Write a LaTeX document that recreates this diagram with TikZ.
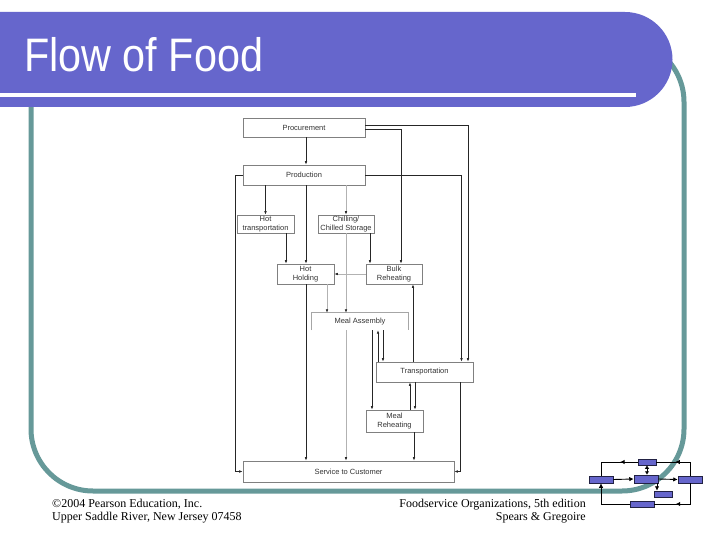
\documentclass[tikz,border=0pt]{standalone}
\usepackage{fontspec}
\setmainfont{Liberation Serif}
\newfontfamily\boxfont{Liberation Sans}
\usetikzlibrary{arrows.meta,decorations.markings}
\definecolor{titlepurple}{HTML}{6666CC}
\definecolor{borderteal}{HTML}{669999}
\definecolor{iconedge}{HTML}{222244}
\tikzset{
  fbox/.style={draw=black!50, line width=0.7pt, fill=white, inner sep=0pt, align=center,
    font=\boxfont\fontsize{7.5}{8.5}\selectfont, text=black!80},
  darr/.style={draw=black!85, line width=0.6pt, -{Latex[length=3.5pt,width=2.6pt]}},
  garr/.style={draw=black!30, line width=0.6pt, -{Latex[length=3.5pt,width=2.6pt,color=black!85]}},
  tealline/.style={draw=borderteal, line width=5pt},
  ibox/.style={draw=iconedge, line width=0.5pt, fill=titlepurple, inner sep=0pt},
  iline/.style={draw=black, line width=0.9pt},
  itip/.style={-{Latex[length=4.5pt,width=4.5pt]}},
  midarrow/.style={postaction={decorate}, decoration={markings, mark=at position #1 with {\arrow{Latex[length=4.5pt,width=4.5pt]}}}},
  foot/.style={inner sep=0pt, font=\fontsize{12}{14}\selectfont}
}
\begin{document}
\begin{tikzpicture}[x=1pt,y=-1pt]
\useasboundingbox (0,0) rectangle (720,540);
\fill[white] (0,0) rectangle (720,540);

% teal frame
\draw[tealline, rounded corners=62pt] (31,40) -- (31,491) -- (684,491) -- (684,40) -- (560,40);

% title bar
\fill[titlepurple, rounded corners=47.5pt] (-80,12) rectangle (672.5,107);
\draw[white, line width=3.5pt] (0,95) -- (636,95);
\node[anchor=base west, text=white, font=\boxfont\fontsize{47}{47}\selectfont, xscale=0.88, inner sep=0pt] (title) at (24,72) {Flow of Food};

% flowchart boxes
\node[fbox, minimum width=122pt, minimum height=19pt] (proc) at (304,127.5) {Procurement};
\node[fbox, minimum width=122pt, minimum height=20pt] (prod) at (304,175) {Production};
\node[fbox, minimum width=57pt, minimum height=18pt] (hott) at (265.5,224) {Hot\\transportation};
\node[fbox, minimum width=56pt, minimum height=18pt] (chill) at (346,224) {Chilling/\\Chilled Storage};
\node[fbox, minimum width=57pt, minimum height=20pt] (hoth) at (305.5,274) {Hot\\Holding};
\node[fbox, minimum width=56pt, minimum height=20pt] (bulk) at (394,274) {Bulk\\Reheating};
\node[inner sep=0pt, minimum width=96pt, minimum height=17pt, font=\boxfont\fontsize{7.5}{8.5}\selectfont, text=black!80] (meal) at (360,321.5) {Meal Assembly};
\draw[draw=black!35, line width=0.7pt] (meal.south west) -- (meal.north west) -- (meal.north east) -- (meal.south east);
\node[fbox, minimum width=97pt, minimum height=20pt] (trans) at (424.5,372) {Transportation};
\node[fbox, minimum width=57pt, minimum height=22pt] (mreh) at (394.5,421) {Meal\\Reheating};
\node[fbox, minimum width=211pt, minimum height=21pt] (serv) at (348.5,471.5) {Service to Customer};

% connectors
\draw[darr] ([xshift=2pt]proc.south) -- ([xshift=2pt]prod.north);
\draw[darr] ([yshift=-1.5pt]proc.east) -| ([xshift=7pt]bulk.north);
\draw[darr] ([yshift=2.5pt]proc.east) -| ([xshift=43.5pt]trans.north);
\draw[darr] (prod.south -| hott.north) -- (hott.north);
\draw[garr] (prod.south -| chill.north) -- (chill.north);
\draw[darr] ([xshift=2pt]prod.south) -- ([xshift=2pt]prod.south |- hoth.north);
\draw[darr] (prod.west) -| ([xshift=-7pt]serv.west) -- (serv.west);
\draw[darr] (prod.east) -| ([xshift=37pt]trans.north);
\draw[darr] ([xshift=20.5pt]hott.south) -- ([xshift=20.5pt]hott.south |- hoth.north);
\draw[darr] ([xshift=24pt]chill.south) -- ([xshift=24pt]chill.south |- bulk.north);
\draw[garr] (chill.south) -- (chill.south |- meal.north);
\draw[garr] (bulk.west) -- (hoth.east);
\draw[garr] ([xshift=21.5pt]hoth.south) -- ([xshift=21.5pt]hoth.south |- meal.north);
\draw[darr] ([xshift=0.5pt]hoth.south) -- ([xshift=0.5pt]hoth.south |- serv.north);
\draw[darr] ([xshift=23pt]meal.south) -- ([xshift=23pt]meal.south |- trans.north);
\draw[darr] ([xshift=18pt]meal.south |- trans.north) -- ([xshift=18pt]meal.south);
\draw[darr] ([xshift=12pt]meal.south) -- ([xshift=12pt]meal.south |- mreh.north);
\draw[garr] ([xshift=-14pt]meal.south) -- ([xshift=-14pt]meal.south |- serv.north);
\draw[darr] ([xshift=-11.5pt]trans.north) -- ([xshift=-11.5pt]trans.north |- bulk.south);
\draw[darr] ([xshift=-9.5pt]trans.south) -- ([xshift=-9.5pt]trans.south |- mreh.north);
\draw[darr] ([xshift=-14.5pt]trans.south |- mreh.north) -- ([xshift=-14.5pt]trans.south);
\draw[darr] ([xshift=19.5pt]mreh.south) -- ([xshift=19.5pt]mreh.south |- serv.north);
\draw[darr] ([xshift=36pt]trans.south) |- (serv.east);

% footer
\node[foot, anchor=base west] (f1) at (52,507) {©2004 Pearson Education, Inc.};
\node[foot, anchor=base west] (f2) at (52,520) {Upper Saddle River, New Jersey 07458};
\node[foot, anchor=base east] (f3) at (586,507) {Foodservice Organizations, 5th edition};
\node[foot, anchor=base east] (f4) at (586,520) {Spears \& Gregoire};

% icon
\node[ibox, minimum width=18pt, minimum height=6pt] (iT) at (647,462) {};
\node[ibox, minimum width=24pt, minimum height=8pt] (iM) at (646,479) {};
\node[ibox, minimum width=24pt, minimum height=7pt] (iL) at (601,479.5) {};
\node[ibox, minimum width=24pt, minimum height=7pt] (iR) at (690,479.5) {};
\node[ibox, minimum width=18pt, minimum height=6pt] (iS) at (663,494) {};
\node[ibox, minimum width=24pt, minimum height=6pt] (iB) at (642,504) {};
\draw[iline, midarrow=0.6] (iR.north) |- (iT.east);
\draw[iline, midarrow=0.35] (iT.west) -| (iL.north);
\draw[iline, itip] (iL.east) -- (iM.west);
\draw[iline, itip] (iM.east) -- (iR.west);
\draw[iline, {Latex[length=3.5pt,width=4.5pt]}-{Latex[length=3.5pt,width=4.5pt]}] (iT.south) -- (iT.south |- iM.north);
\draw[iline, itip] ([xshift=11pt]iM.south) -- ([xshift=11pt]iM.south |- iS.north);
\draw[iline, midarrow=0.62] (iR.south) |- (iB.east);
\draw[iline, itip] (iB.west) -| (iL.south);
\end{tikzpicture}
\end{document}
